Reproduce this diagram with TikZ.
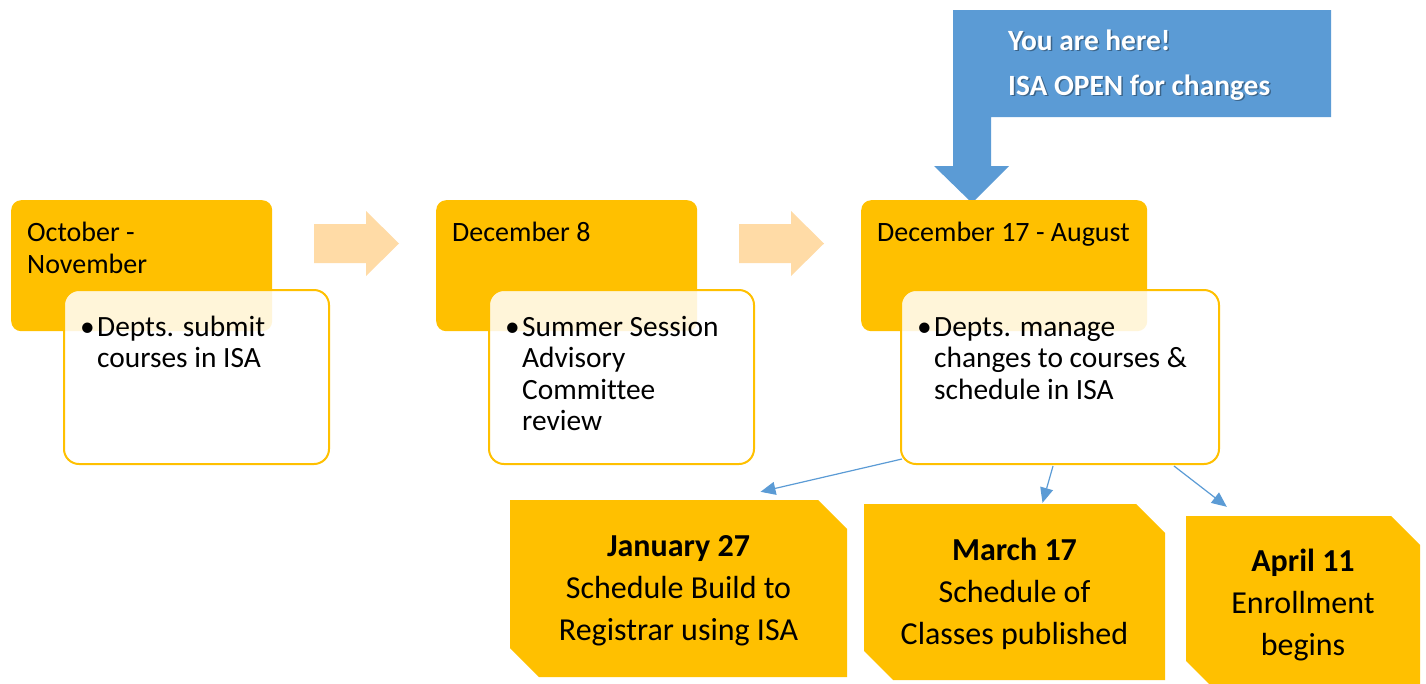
\documentclass[tikz,border=0pt]{standalone}
\usepackage{fontspec}
\setmainfont{Carlito}[Ligatures=NoCommon]
\usetikzlibrary{arrows.meta}

\definecolor{gold}{HTML}{FFC000}
\definecolor{peach}{HTML}{FFDBA6}
\definecolor{sky}{HTML}{5B9BD5}

\newcommand{\datefont}{\fontsize{28}{32}\selectfont}
\newcommand{\notefont}{\fontsize{29.4}{31.5}\selectfont}
\newcommand{\milefont}{\fontsize{32}{42}\selectfont}
\newcommand{\herefont}{\bfseries\fontsize{29.4}{45}\selectfont}
\newcommand{\lines}[1]{\begin{tabular}[t]{@{}l@{}}#1\end{tabular}}
\newcommand{\centred}[1]{\begin{tabular}[t]{@{}c@{}}#1\end{tabular}}
\newcommand{\bulleted}[1]{\begin{tabular}[t]{@{}p{17pt}@{}l@{}}\textbullet & #1\end{tabular}}

\begin{document}
\begin{tikzpicture}[x=1pt, y=-1pt, >=Stealth,
    datebox/.style={fill=gold, rounded corners=10pt, anchor=north west, inner sep=0pt,
        minimum width=#1, minimum height=131pt},
    notebox/.style={draw=gold, line width=2pt, fill=white, fill opacity=0.85,
        rounded corners=15pt, anchor=north west, inner sep=0pt,
        minimum width=#1, minimum height=174pt},
    datetext/.style={anchor=base west, inner sep=0pt, font=\datefont},
    notetext/.style={anchor=base west, inner sep=0pt, font=\notefont},
    % gold card with the top right and bottom left corners cut off
    milestone/.style={inner sep=0pt, minimum width=#1, text height=20pt, text depth=84pt,
        font=\milefont,
        path picture={\fill[gold]
            (path picture bounding box.north west) -- ([shift={(-29,0)}]path picture bounding box.north east)
            -- ([shift={(0,29)}]path picture bounding box.north east) -- (path picture bounding box.south east)
            -- ([shift={(29,0)}]path picture bounding box.south west)
            -- ([shift={(0,-29)}]path picture bounding box.south west) -- cycle;}},
    link/.style={-{Triangle[length=15pt, width=13pt]}, sky, line width=1.2pt}]

    \useasboundingbox (0,0) rectangle (1426,683);

    % Stage arrows
    \foreach \dx in {0,425}
        \fill[peach] (314+\dx,224) -- (366+\dx,224) -- (366+\dx,211) -- (399+\dx,243.5)
            -- (366+\dx,276) -- (366+\dx,263) -- (314+\dx,263) -- cycle;

    % You are here
    \fill[sky] (953,10) -- (1331,10) -- (1331,117) -- (991,117) -- (991,166) -- (1009,166)
        -- (972,203) -- (934,166) -- (953,166) -- cycle;
    \node[anchor=base west, inner sep=0pt, text=black, opacity=0.35, font=\herefont]
        (hereshadow) at (1009.5,51.5) {\lines{You are here!\\ISA OPEN for changes}};
    \node[anchor=base west, inner sep=0pt, text=white, font=\herefont]
        (here) at (1008,50) {\lines{You are here!\\ISA OPEN for changes}};

    % Stages
    \node[datebox=261pt] (oct) at (11,200) {};
    \node[datebox=261pt] (dec) at (436,200) {};
    \node[datebox=286pt] (open) at (861,200) {};

    \node[datetext] (octtxt) at ([shift={(16,41)}]oct.north west) {\lines{October -\\November}};
    \node[datetext] (dectxt) at ([shift={(16,41)}]dec.north west) {December 8};
    \node[datetext] (opentxt) at ([shift={(16,41)}]open.north west) {December 17 - August};

    \node[notebox=265pt] (submit) at (63,289) {};
    \node[notebox=265pt] (review) at (488,289) {};
    \node[notebox=318pt] (manage) at (900,289) {};

    \node[notetext] (submittxt) at ([shift={(17,47)}]submit.north west)
        {\bulleted{Depts. submit\\ & courses in ISA}};
    \node[notetext] (reviewtxt) at ([shift={(17,47)}]review.north west)
        {\bulleted{Summer Session\\ & Advisory\\ & Committee\\ & review}};
    \node[notetext] (managetxt) at ([shift={(17,47)}]manage.north west)
        {\bulleted{Depts. manage\\ & changes to courses \&\\ & schedule in ISA}};

    % Milestones
    \node[milestone=337pt, minimum height=177pt] (jan) at (678.5,588.5)
        {\centred{\textbf{January 27}\\Schedule Build to\\Registrar using ISA}};
    \node[milestone=301pt, minimum height=176pt] (mar) at (1014.5,592)
        {\centred{\textbf{March 17}\\Schedule of\\Classes published}};
    \node[milestone=234pt, minimum height=174pt] (apr) at (1303,603)
        {\centred{\textbf{April 11}\\Enrollment\\begins}};

    \draw[link] ([shift={(2,-6)}]manage.south west) -- ([shift={(82,-8)}]jan.north);
    \draw[link] ([shift={(-7,1)}]manage.south) -- ([shift={(28,-1)}]mar.north);
    \draw[link] ([shift={(114,1)}]manage.south) -- ([shift={(41,-9)}]apr.north west);
\end{tikzpicture}
\end{document}
